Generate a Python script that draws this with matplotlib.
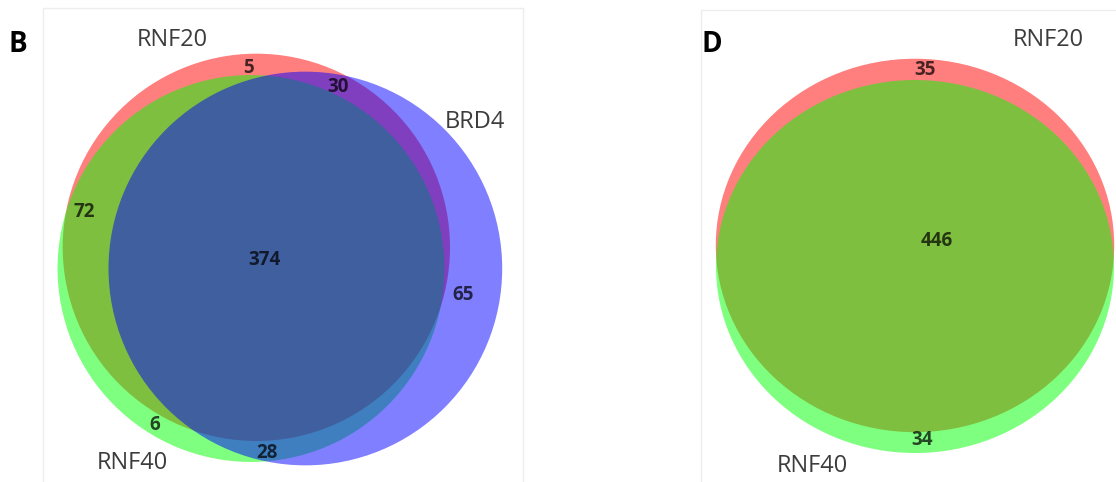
import numpy as np
import matplotlib.pyplot as plt
from matplotlib.patches import Ellipse, Rectangle

plt.rcParams['font.family'] = ['Open Sans', 'DejaVu Sans']

# panel B: three-way overlap, region keys are membership flags (RNF20, RNF40, BRD4)
b_names = ['RNF20', 'RNF40', 'BRD4']
b_regions = ['100', '010', '110', '001', '101', '011', '111']
b_counts = [5, 6, 72, 65, 30, 28, 374]

# panel D: two-way overlap (RNF20, RNF40)
d_names = ['RNF20', 'RNF40']
d_regions = ['10', '01', '11']
d_counts = [35, 34, 446]

set_colors = ['#ff0000', '#00ff00', '#0000ff']


def set_size(regions, counts, i, j=None):
    total = 0
    for key, n in zip(regions, counts):
        if key[i] == '1' and (j is None or key[j] == '1'):
            total += n
    return total


def lens_area(r1, r2, d):
    if d >= r1 + r2:
        return 0.0
    if d <= abs(r1 - r2):
        return np.pi * min(r1, r2) ** 2
    a1 = r1 ** 2 * np.arccos((d * d + r1 * r1 - r2 * r2) / (2 * d * r1))
    a2 = r2 ** 2 * np.arccos((d * d + r2 * r2 - r1 * r1) / (2 * d * r2))
    a3 = 0.5 * np.sqrt((-d + r1 + r2) * (d + r1 - r2) * (d - r1 + r2) * (d + r1 + r2))
    return a1 + a2 - a3


def solve_distance(r1, r2, area):
    # bisection on centre distance so that the lens area equals the overlap count
    lo, hi = abs(r1 - r2), r1 + r2
    for _ in range(80):
        mid = (lo + hi) / 2
        if lens_area(r1, r2, mid) > area:
            lo = mid
        else:
            hi = mid
    return (lo + hi) / 2


def radii(regions, counts, n):
    return [np.sqrt(set_size(regions, counts, i) / np.pi) for i in range(n)]


fig = plt.figure(figsize=(11.16, 4.82), dpi=100)
ax = fig.add_axes([0, 0, 1, 1])
ax.set_xlim(0, 1116)
ax.set_ylim(482, 0)
ax.axis('off')

# faint panel frames
ax.add_patch(Rectangle((43, 8), 480, 476, fill=False, ec='#ededed', lw=1))
ax.add_patch(Rectangle((701, 10), 420, 476, fill=False, ec='#ededed', lw=1))

# ---- panel B layout: RNF40 at origin, BRD4 to its right, RNF20 above
rb = radii(b_regions, b_counts, 3)
d_rg = solve_distance(rb[0], rb[1], set_size(b_regions, b_counts, 0, 1))
d_rb = solve_distance(rb[0], rb[2], set_size(b_regions, b_counts, 0, 2))
d_gb = solve_distance(rb[1], rb[2], set_size(b_regions, b_counts, 1, 2))
rx = (d_rg ** 2 - d_rb ** 2 + d_gb ** 2) / (2 * d_gb)
ry = -np.sqrt(max(d_rg ** 2 - rx ** 2, 0))
b_centers = [(rx, ry), (0.0, 0.0), (d_gb, 0.0)]

anchor, sx, sy = (251, 268.5), 15.65, 15.65
for (ux, uy), r, c in zip(b_centers, rb, set_colors):
    ax.add_patch(Ellipse((anchor[0] + sx * ux, anchor[1] + sy * uy),
                         2 * r * sx, 2 * r * sy, fc=c, alpha=0.5, lw=0))

# ---- panel D layout: RNF20 straight above RNF40
rd = radii(d_regions, d_counts, 2)
d_d = solve_distance(rd[0], rd[1], set_size(d_regions, d_counts, 0, 1))
d_centers = [(0.0, -d_d), (0.0, 0.0)]

anchor, sx, sy = (915, 266.5), 16.1, 15.09
for (ux, uy), r, c in zip(d_centers, rd, set_colors):
    ax.add_patch(Ellipse((anchor[0] + sx * ux, anchor[1] + sy * uy),
                         2 * r * sx, 2 * r * sy, fc=c, alpha=0.5, lw=0))

# region counts
num_kw = dict(ha='center', va='center', fontsize=13.5, fontweight='bold', color='black', alpha=0.72)
b_label_xy = [(248, 68), (155, 425), (84, 212), (463, 295), (338, 87), (267, 453), (264, 260)]
for (x, y), n in zip(b_label_xy, b_counts):
    ax.text(x, y, str(n), **num_kw)

d_label_xy = [(925, 70), (922, 440), (937, 241)]
for (x, y), n in zip(d_label_xy, d_counts):
    ax.text(x, y, str(n), **num_kw)

# set names and panel letters
name_kw = dict(ha='center', va='center', fontsize=17, color='#3c3c3c')
for (x, y), name in zip([(172, 40), (132, 463), (475, 122)], b_names):
    ax.text(x, y, name, **name_kw)
for (x, y), name in zip([(1048, 40), (812, 466)], d_names):
    ax.text(x, y, name, **name_kw)

ax.text(18, 45, 'B', ha='center', va='center', fontsize=20, fontweight='bold', color='black')
ax.text(712, 45, 'D', ha='center', va='center', fontsize=20, fontweight='bold', color='black')

fig.savefig('out.png', dpi=100)
